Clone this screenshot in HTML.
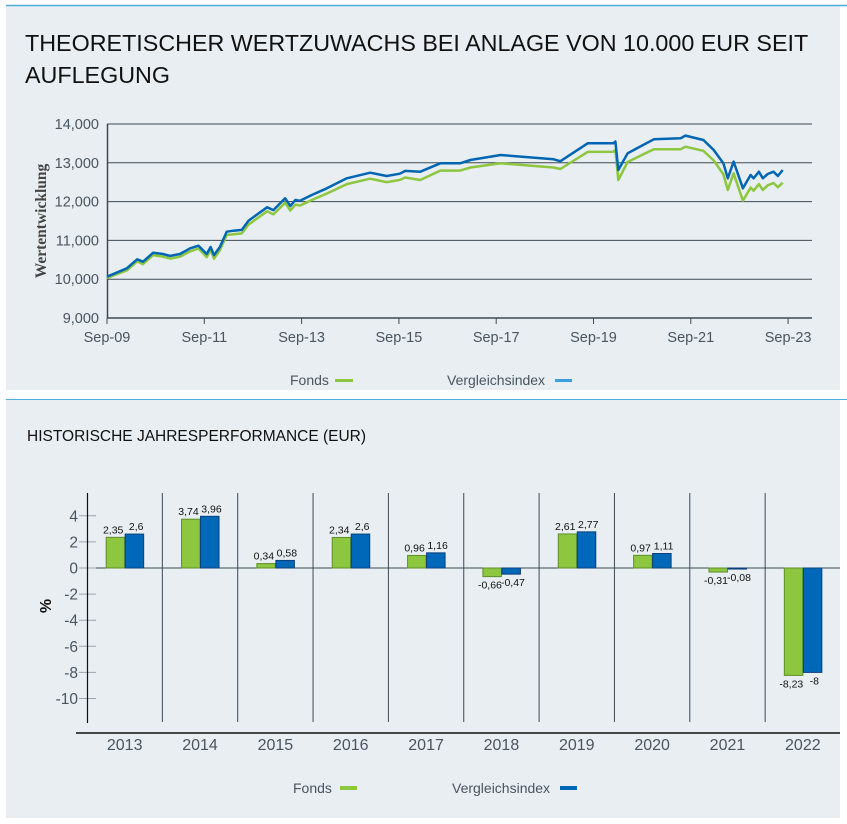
<!DOCTYPE html>
<html><head><meta charset="utf-8">
<style>
body{margin:0;width:847px;height:824px;background:#fff;font-family:"Liberation Sans",sans-serif;overflow:hidden}
svg{position:absolute;left:0;top:0}
</style></head>
<body>
<svg id="svg" width="847" height="824" xmlns="http://www.w3.org/2000/svg">
<rect x="6" y="5" width="834" height="385" fill="#e8eef1"/>
<line x1="6" y1="5.5" x2="847" y2="5.5" stroke="#4aaee0" stroke-width="1.5"/>
<rect x="6" y="400" width="834" height="418" fill="#e8eef1"/>
<line x1="6" y1="399.5" x2="847" y2="399.5" stroke="#4aaee0" stroke-width="1"/>
<text x="25" y="51" font-size="23.3" fill="#111">THEORETISCHER WERTZUWACHS BEI ANLAGE VON 10.000 EUR SEIT</text>
<text x="25" y="83" font-size="23.3" fill="#111">AUFLEGUNG</text>
<text x="27" y="441" font-size="15.5" fill="#111">HISTORISCHE JAHRESPERFORMANCE (EUR)</text>
<g id="line"></g>
<g id="bars"></g>
</svg>
<script>
// ---- line chart data (t = years since Sep-09) ----
const lineT = [0,0.41,0.62,0.74,0.95,1.15,1.30,1.50,1.71,1.88,2.05,2.13,2.20,2.32,2.46,2.60,2.77,2.91,3.29,3.42,3.66,3.77,3.87,3.97,4.21,4.52,4.93,5.41,5.75,6.02,6.13,6.44,6.85,7.26,7.47,8.09,9.18,9.32,9.88,10.41,10.45,10.51,10.70,11.24,11.79,11.89,12.26,12.47,12.67,12.76,12.88,13.07,13.23,13.29,13.40,13.48,13.58,13.70,13.79,13.89];
const indexVals = [10064,10280,10513,10451,10683,10650,10600,10650,10796,10864,10650,10830,10620,10830,11225,11250,11270,11510,11853,11780,12085,11887,12040,12020,12170,12342,12600,12745,12660,12720,12790,12770,12987,12987,13072,13201,13090,13040,13502,13502,13550,12814,13244,13606,13631,13700,13588,13330,12987,12600,13030,12342,12686,12600,12771,12600,12711,12771,12660,12814];
const fondsVals = [10030,10230,10460,10390,10620,10580,10530,10580,10720,10790,10570,10750,10530,10750,11140,11160,11180,11410,11750,11670,11970,11770,11920,11900,12040,12210,12450,12590,12500,12560,12620,12557,12800,12800,12880,12987,12880,12840,13280,13286,13330,12557,13020,13350,13348,13416,13310,13060,12700,12300,12729,12023,12360,12280,12450,12300,12420,12480,12370,12487];
const yTicks = [9000,10000,11000,12000,13000,14000];
const yTickLabels = ["9,000","10,000","11,000","12,000","13,000","14,000"];
const xTickT = [0,2,4,6,8,10,12,14];
const xTickLabels = ["Sep-09","Sep-11","Sep-13","Sep-15","Sep-17","Sep-19","Sep-21","Sep-23"];
// ---- bar chart data ----
const years = ["2013","2014","2015","2016","2017","2018","2019","2020","2021","2022"];
const fondsPerf = [2.35,3.74,0.34,2.34,0.96,-0.66,2.61,0.97,-0.31,-8.23];
const indexPerf = [2.6,3.96,0.58,2.6,1.16,-0.47,2.77,1.11,-0.08,-8];
const barTicks = [4,2,0,-2,-4,-6,-8,-10];

const NS="http://www.w3.org/2000/svg";
function mk(tag,attrs,parent,txt){const e=document.createElementNS(NS,tag);for(const k in attrs)e.setAttribute(k,attrs[k]);if(txt!==undefined)e.textContent=txt;parent.appendChild(e);return e;}
const fmt=v=>String(v).replace('.',',');

// line chart
const L=document.getElementById('line');
const xL=t=>107+t*48.65, yL=v=>318-(v-9000)/1000*38.8;
yTicks.forEach((v,i)=>{
  if(v>9000){const g=mk('line',{x1:107,x2:812,y1:yL(v),y2:yL(v),stroke:'#3d4a55','stroke-width':1},L);
  
  }
  const t=mk('text',{x:99,y:yL(v)+5,'text-anchor':'end','font-size':14.5,fill:'#4a5560'},L,yTickLabels[i]);
  
  
});
mk('line',{x1:107.5,x2:107.5,y1:124,y2:318,stroke:'#3d4a55','stroke-width':1.5},L);
mk('line',{x1:107,x2:812,y1:318,y2:318,stroke:'#3d4a55','stroke-width':1.5},L);
xTickT.forEach((t,i)=>{
  mk('line',{x1:xL(t),x2:xL(t),y1:318,y2:324,stroke:'#3d4a55'},L);
  const tx=mk('text',{x:xL(t),y:342,'text-anchor':'middle','font-size':14.5,fill:'#4a5560'},L,xTickLabels[i]);
  
  
});
const yt=mk('text',{x:0,y:0,transform:'translate(46,221) rotate(-90)','text-anchor':'middle','font-size':15.5,'font-weight':'bold','font-family':'Liberation Serif, serif',fill:'#444'},L,'Wertentwicklung');


const pts=vals=>lineT.map((t,i)=>xL(t).toFixed(1)+','+yL(vals[i]).toFixed(1)).join(' ');
const pf=mk('polyline',{points:pts(fondsVals),fill:'none',stroke:'#8dc63f','stroke-width':2.5,'stroke-linejoin':'round'},L);


const pi=mk('polyline',{points:pts(indexVals),fill:'none',stroke:'#0066b3','stroke-width':2.5,'stroke-linejoin':'round'},L);


// legend top
const l1=mk('text',{x:290,y:385,'font-size':14,fill:'#4a5560'},L,'Fonds');


mk('rect',{x:335,y:379,width:18,height:3,fill:'#8dc63f'},L);
const l2=mk('text',{x:447,y:385,'font-size':14,fill:'#4a5560'},L,'Vergleichsindex');


mk('rect',{x:555,y:379,width:17,height:3,fill:'#3aa0e0'},L);

// bar chart
const B=document.getElementById('bars');
const y0=568, yB=v=>y0-v*13.05, cw=75.35, cx=i=>87+cw*(i+0.5);
barTicks.forEach(v=>{
  mk('line',{x1:79,x2:96,y1:yB(v),y2:yB(v),stroke:'#9aa4ab'},B);
  const t=mk('text',{x:78,y:yB(v)+5.5,'text-anchor':'end','font-size':15.5,fill:'#4a5560'},B,String(v));
  
  
});
mk('line',{x1:87.5,x2:87.5,y1:493,y2:723,stroke:'#111','stroke-width':1.2},B);
for(let k=1;k<years.length;k++) mk('line',{x1:87+cw*k,x2:87+cw*k,y1:493,y2:722,stroke:'#3d4a55','stroke-width':1},B);
mk('line',{x1:96,x2:840,y1:y0,y2:y0,stroke:'#3d4a55','stroke-width':1},B);
mk('line',{x1:76,x2:840,y1:733,y2:733,stroke:'#111','stroke-width':1.5},B);
const yl=mk('text',{x:0,y:0,transform:'translate(51,606) rotate(-90)','text-anchor':'middle','font-size':16,'font-weight':'bold',fill:'#111'},B,'%');


years.forEach((yr,i)=>{
  const c=cx(i);
  [[fondsPerf[i],c-19,'#8dc63f','#5f8f2a','bar-fonds-'+yr,-2],[indexPerf[i],c,'#0068b8','#0a3f7a','bar-index-'+yr,2]].forEach(([v,x,f,s,nm,dx])=>{
    const top=Math.min(yB(v),y0), h=Math.abs(yB(v)-y0);
    const r=mk('rect',{x:x+0.5,y:top,width:18.5,height:Math.max(h,1),fill:f,stroke:s,'stroke-width':1},B);
    
    
    const ly=v>=0?top-4:top+h+12;
    const t=mk('text',{x:x+9.5+dx,y:ly,'text-anchor':'middle','font-size':10.5,fill:'#111'},B,fmt(v));
    
    
  });
  const t=mk('text',{x:c,y:750,'text-anchor':'middle','font-size':16,fill:'#4a5560'},B,yr);
  
  
});
const b1=mk('text',{x:293,y:793,'font-size':14,fill:'#4a5560'},B,'Fonds');


mk('rect',{x:340,y:786,width:17,height:4,fill:'#8dc63f'},B);
const b2=mk('text',{x:452,y:793,'font-size':14,fill:'#4a5560'},B,'Vergleichsindex');


mk('rect',{x:560,y:786,width:17,height:4,fill:'#0068b8'},B);
</script>
</body></html>
